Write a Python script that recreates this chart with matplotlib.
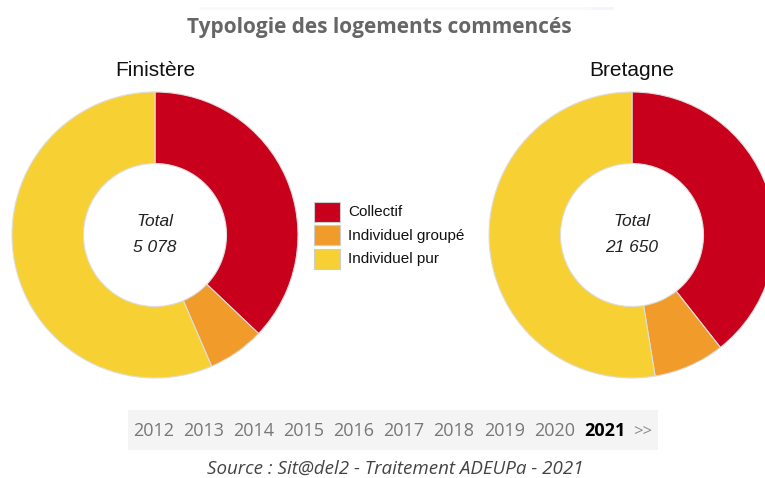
import matplotlib
matplotlib.use("Agg")
import matplotlib.pyplot as plt
from matplotlib.patches import Rectangle

W, H = 765, 478

# Data
categories = ["Collectif", "Individuel groupé", "Individuel pur"]
colors = ["#c8001c", "#f19c2a", "#f7d134"]
finistere = [1884, 326, 2868]
bretagne = [8530, 1735, 11385]
totals = ["5 078", "21 650"]
zones = ["Finistère", "Bretagne"]
years = ["2012", "2013", "2014", "2015", "2016", "2017", "2018", "2019", "2020", "2021"]
current_year = "2021"


def fx(x):
    return x / W


def fy(y):
    return 1 - y / H


fig = plt.figure(figsize=(W / 100, H / 100), dpi=100)
fig.patch.set_facecolor("white")

# faint shadow line at the top
fig.add_artist(plt.Line2D([fx(590), fx(612)], [fy(8), fy(8)], color="#f3f5fb", lw=2))
fig.add_artist(plt.Line2D([fx(200), fx(590)], [fy(8), fy(8)], color="#f8f9fd", lw=2))

fig.text(fx(379), fy(27), "Typologie des logements commencés", ha="center", va="center",
         fontsize=15, fontweight="bold", color="#666666", family="Open Sans")

centers = [(155, 235), (632, 235)]
radius = 143
half = 146
for values, (cx, cy), total, zone in zip([finistere, bretagne], centers, totals, zones):
    ax = fig.add_axes([fx(cx - half), fy(cy + half), 2 * half / W, 2 * half / H])
    ax.pie(values, colors=colors, startangle=90, counterclock=False, radius=1,
           wedgeprops=dict(width=0.5, edgecolor="#dddddd", linewidth=0.8))
    lim = half / radius
    ax.set_xlim(-lim, lim)
    ax.set_ylim(-lim, lim)
    ax.set_aspect("equal")
    ax.axis("off")
    fig.text(fx(cx), fy(70), zone, ha="center", va="center", fontsize=15,
             family="Liberation Sans", color="#111111")
    fig.text(fx(cx), fy(222), "Total", ha="center", va="center", fontsize=12.5,
             family="Liberation Sans", style="italic", color="#222222")
    fig.text(fx(cx), fy(248), total, ha="center", va="center", fontsize=12.5,
             family="Liberation Sans", style="italic", color="#222222")

# legend
for i, (cat, col) in enumerate(zip(categories, colors)):
    y = 212 + i * 23.5
    fig.add_artist(Rectangle((fx(314), fy(y + 10)), 26 / W, 20 / H, facecolor=col,
                             edgecolor="#cccccc", lw=0.8, transform=fig.transFigure))
    fig.text(fx(348), fy(y), cat, ha="left", va="center", fontsize=11,
             family="Liberation Sans", color="#111111")

# year selector
fig.add_artist(Rectangle((fx(128), fy(450)), 530 / W, 40 / H, facecolor="#f4f4f4",
                         edgecolor="none", transform=fig.transFigure))
x = 133
for yr in years:
    bold = yr == current_year
    fig.text(fx(x), fy(431), yr, ha="left", va="center", fontsize=13,
             family="Open Sans", fontweight="bold" if bold else "normal",
             color="#000000" if bold else "#777777")
    x += 50.1
fig.text(fx(633), fy(432), ">>", ha="left", va="center", fontsize=12,
         family="Open Sans", color="#8a8a8a")

fig.text(fx(395), fy(469), "Source : Sit@del2 - Traitement ADEUPa - 2021", ha="center",
         va="center", fontsize=13.5, family="Open Sans", style="italic", color="#444444")

fig.savefig("out.png", dpi=100, facecolor="white")
